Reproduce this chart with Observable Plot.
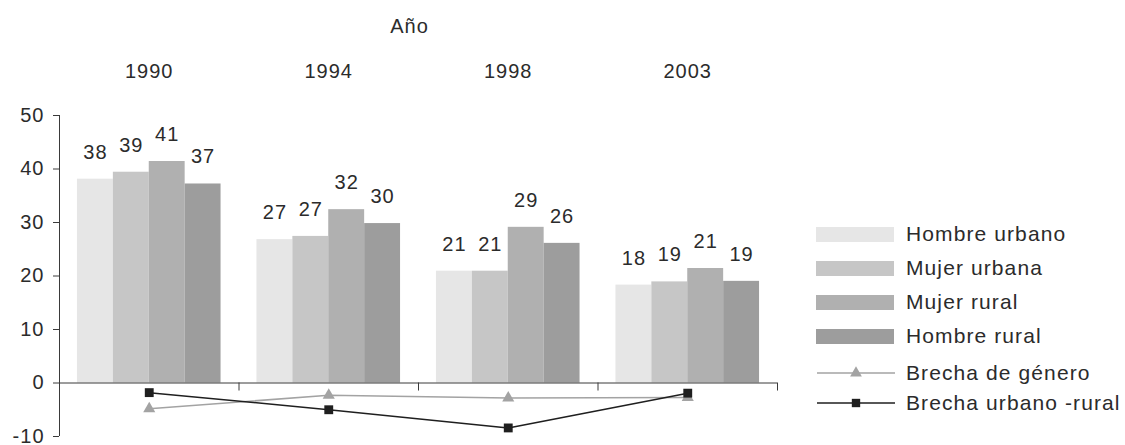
<!DOCTYPE html>
<html>
<head>
<meta charset="utf-8">
<script src="https://cdn.jsdelivr.net/npm/d3@7"></script>
<script src="https://cdn.jsdelivr.net/npm/@observablehq/plot@0.6"></script>
<style>
  html, body { margin: 0; padding: 0; background: #fff; }
  #wrap { position: relative; width: 1125px; height: 445px; font-family: "Liberation Sans", Arial, sans-serif; color: #2b2b2b; }
  #chart { position: absolute; left: 0; top: 0; }
  #legend { position: absolute; left: 816px; top: 217px; }
  .row { display: flex; align-items: center; height: 34px; }
  .row.line { height: 30px; }
  .row.line.first { margin-top: 5px; }
  .row svg { display: block; flex: none; }
  .row span { margin-left: 12px; font-size: 21px; letter-spacing: 1.1px; white-space: nowrap; }
</style>
</head>
<body>
<div id="wrap">
  <div id="chart"></div>
  <div id="legend"></div>
</div>
<script>
// Survey years (one group of bars per year)
const years = ["1990", "1994", "1998", "2003"];

// Bar series, in drawing order within each group
const seriesNames = ["Hombre urbano", "Mujer urbana", "Mujer rural", "Hombre rural"];
const hombreUrbano = [38.1, 26.8, 20.9, 18.3];
const mujerUrbana  = [39.4, 27.4, 20.9, 18.9];
const mujerRural   = [41.4, 32.4, 29.1, 21.4];
const hombreRural  = [37.2, 29.8, 26.1, 19.0];
const barColors = ["#e6e6e6", "#c6c6c6", "#b0b0b0", "#9d9d9d"];

// Gap series drawn as lines below zero
const gapNames = ["Brecha de género", "Brecha urbano -rural"];
const brechaGenero      = [-4.8, -2.3, -2.8, -2.7];
const brechaUrbanoRural = [-1.8, -5.0, -8.4, -1.9];

// Axis
const yTicks = [-10, 0, 10, 20, 30, 40, 50];
const axisTitle = "Año";

const ink = "#2b2b2b";
const axisInk = "#3a3a3a";
const generoColor = "#a3a3a3";
const ruralColor = "#1f1f1f";

// Each year occupies one unit on a linear x scale; the four bars share 0.8 of it.
const groupWidth = 0.8;
const barWidth = groupWidth / seriesNames.length;
const barSeries = [hombreUrbano, mujerUrbana, mujerRural, hombreRural];
const bars = [];
barSeries.forEach((values, k) => {
  values.forEach((value, i) => {
    const x1 = i - groupWidth / 2 + k * barWidth;
    bars.push({year: years[i], series: seriesNames[k], value, x1, x2: x1 + barWidth});
  });
});
const genero = brechaGenero.map((value, i) => ({i, value}));
const urbanoRural = brechaUrbanoRural.map((value, i) => ({i, value}));
const boundaries = years.map((_, i) => i + 0.5);

const chart = Plot.plot({
  width: 800,
  height: 445,
  marginLeft: 59,
  marginRight: 23,
  marginTop: 115,
  marginBottom: 9,
  style: {
    fontFamily: "'Liberation Sans', Arial, sans-serif",
    fontSize: "20px",
    letterSpacing: "1px",
    color: ink,
    background: "#fff",
    overflow: "visible"
  },
  x: {type: "linear", domain: [-0.5, years.length - 0.5], axis: null},
  y: {domain: [-10, 50], axis: null},
  color: {domain: seriesNames, range: barColors},
  marks: [
    Plot.rectY(bars, {x1: "x1", x2: "x2", y1: 0, y2: "value", fill: "series"}),
    Plot.text(bars, {
      x: d => (d.x1 + d.x2) / 2,
      y: "value",
      text: d => d3.format(".0f")(d.value),
      dy: -27,
      fill: ink
    }),
    // axes
    Plot.axisY({
      ticks: yTicks,
      tickFormat: d => String(d),
      tickSize: 6,
      tickPadding: 9,
      label: null,
      stroke: axisInk
    }),
    Plot.ruleX([-0.5], {y1: -10, y2: 50, stroke: axisInk}),
    Plot.ruleY([0], {stroke: axisInk}),
    Plot.ruleX(boundaries, {y1: 0, y2: -1.5, stroke: axisInk}),
    // gap lines
    Plot.line(genero, {x: "i", y: "value", stroke: generoColor, strokeWidth: 1.6}),
    Plot.dot(genero, {x: "i", y: "value", symbol: "triangle", r: 4.5, fill: generoColor, stroke: "none"}),
    Plot.line(urbanoRural, {x: "i", y: "value", stroke: ruralColor, strokeWidth: 1.5}),
    Plot.dot(urbanoRural, {x: "i", y: "value", symbol: "square", r: 5, fill: ruralColor, stroke: "none"}),
    // year headers and title above the frame
    Plot.text(years, {x: (d, i) => i, frameAnchor: "top", lineAnchor: "middle", dy: -44, text: d => d, fill: ink}),
    Plot.text([axisTitle], {frameAnchor: "top", lineAnchor: "middle", dx: -9, dy: -89, text: d => d, fill: ink})
  ]
});
document.getElementById("chart").appendChild(chart);

// Legend
const legend = d3.select("#legend");
seriesNames.forEach((name, k) => {
  const row = legend.append("div").attr("class", "row");
  const svg = row.append("svg").attr("width", 78).attr("height", 15);
  svg.append("rect").attr("width", 78).attr("height", 15).attr("fill", barColors[k]);
  row.append("span").text(name);
});
const triangle = d3.symbol(d3.symbolTriangle, 60)();
const square = d3.symbol(d3.symbolSquare, 70)();
gapNames.forEach((name, k) => {
  const row = legend.append("div").attr("class", k === 0 ? "row line first" : "row line");
  const color = k === 0 ? generoColor : ruralColor;
  const svg = row.append("svg").attr("width", 80).attr("height", 16);
  svg.append("line").attr("x1", 1).attr("x2", 79).attr("y1", 8).attr("y2", 8)
    .attr("stroke", color).attr("stroke-width", 1.6);
  svg.append("path").attr("d", k === 0 ? triangle : square)
    .attr("transform", "translate(40,8)").attr("fill", color);
  row.append("span").text(name).style("margin-left", "10px");
});
</script>
</body>
</html>
